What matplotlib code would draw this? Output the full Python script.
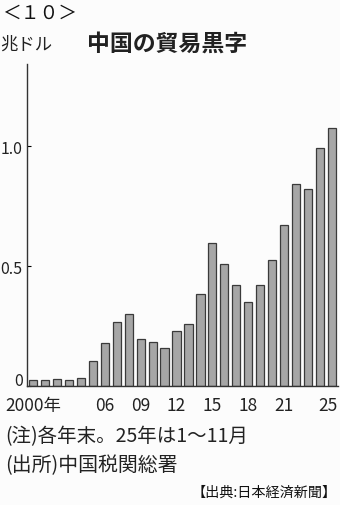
import matplotlib.pyplot as plt
from matplotlib.transforms import ScaledTranslation

plt.rcParams['font.family'] = ['Noto Sans CJK JP', 'DejaVu Sans']

# 中国の貿易黒字 (兆ドル), 2000-2025
years = list(range(2000, 2026))
surplus = [0.024, 0.023, 0.030, 0.025, 0.032, 0.105, 0.180, 0.265, 0.298, 0.197,
           0.182, 0.157, 0.230, 0.260, 0.385, 0.597, 0.510, 0.420, 0.352, 0.421,
           0.524, 0.670, 0.840, 0.823, 0.992, 1.076]
tick_years = [2000, 2006, 2009, 2012, 2015, 2018, 2021, 2025]
tick_labels = ["2000年", "06", "09", "12", "15", "18", "21", "25"]
y_ticks = [0, 0.5, 1.0]
y_labels = ["0", "0.5", "1.0"]

W, H = 340, 506
fig = plt.figure(figsize=(W / 100, H / 100), dpi=100)
fig.patch.set_facecolor("#fcfcfc")


def fx(px):
    return px / W


def fy(py):
    return 1 - py / H


ax = fig.add_axes([fx(27), fy(387), (338 - 27) / W, (387 - 65) / H])
ax.set_facecolor("#fcfcfc")
ax.bar(years, surplus, width=0.68, color="#a6a6a6", edgecolor="#3a3a3a", linewidth=0.9)

ax.set_xlim(1999.5, 2025.5)
ax.set_ylim(0, 1.342)
for s in ["top", "right"]:
    ax.spines[s].set_visible(False)
ax.spines["left"].set_color("#333333")
ax.spines["bottom"].set_color("#333333")
ax.spines["left"].set_linewidth(1.0)
ax.spines["bottom"].set_linewidth(1.0)

ax.set_yticks(y_ticks)
ax.set_yticklabels(y_labels, fontsize=11.5, color="#222222")
ax.tick_params(axis="y", direction="in", length=3, width=0.8, pad=3)
# the "0" label sits a little above the baseline
zero_lab = ax.get_yticklabels()[0]
zero_lab.set_transform(zero_lab.get_transform() + ScaledTranslation(0, 0.08, fig.dpi_scale_trans))

ax.set_xticks(tick_years)
ax.set_xticklabels(tick_labels, fontsize=12.5, color="#222222")
ax.tick_params(axis="x", length=0, pad=7)
# keep the last label inside the frame
last_lab = ax.get_xticklabels()[-1]
last_lab.set_transform(last_lab.get_transform() + ScaledTranslation(-0.04, 0, fig.dpi_scale_trans))

fig.text(fx(2), fy(13), "＜１０＞", fontsize=13.5, va="center", ha="left", color="#111111")
fig.text(fx(0), fy(45), "兆ドル", fontsize=12.5, va="center", ha="left", color="#222222")
fig.text(fx(87), fy(44), "中国の貿易黒字", fontsize=16.5, fontweight="bold",
         va="center", ha="left", color="#222222")

fig.text(fx(5), fy(437), "(注)各年末。25年は1～11月", fontsize=14, va="center",
         ha="left", color="#222222")
fig.text(fx(5), fy(466), "(出所)中国税関総署", fontsize=14.3, va="center",
         ha="left", color="#222222")
fig.text(fx(337), fy(493), "【出典:日本経済新聞】", fontsize=10.2, va="center",
         ha="right", color="#111111")

fig.savefig("out.png", dpi=100, facecolor=fig.get_facecolor())
